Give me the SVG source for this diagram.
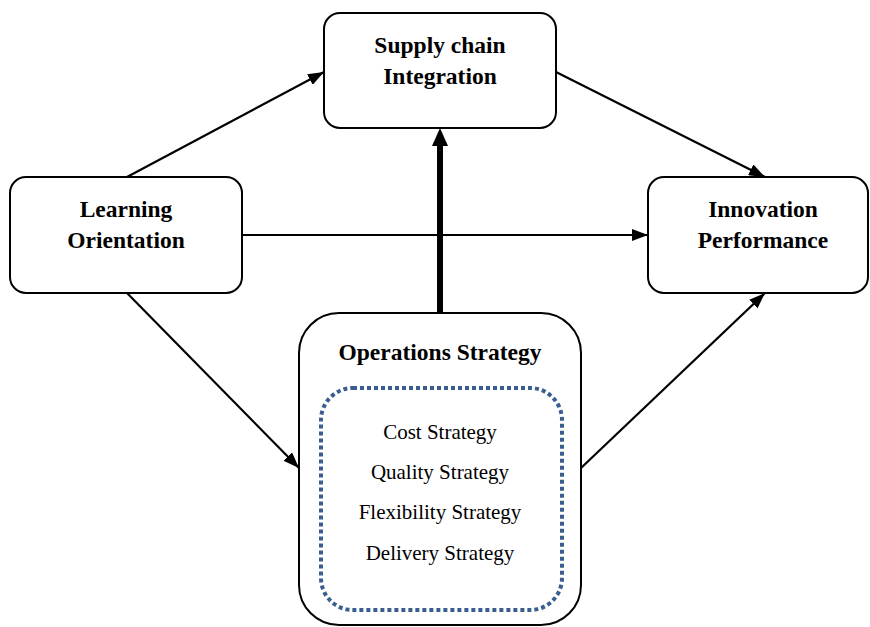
<svg xmlns="http://www.w3.org/2000/svg" width="870" height="627" viewBox="0 0 870 627">
<style>
.box{fill:#fff;stroke:#000;stroke-width:2}
.t{font-family:"Liberation Serif",serif;font-weight:bold;font-size:23.5px;text-anchor:middle;fill:#000}
.s{font-family:"Liberation Serif",serif;font-size:21px;text-anchor:middle;fill:#000}
.c{stroke:#000;stroke-width:2.2;fill:none;marker-end:url(#ah)}
</style>
<defs>
<marker id="ah" viewBox="0 0 16 12" refX="16" refY="6" markerWidth="16" markerHeight="12" markerUnits="userSpaceOnUse" orient="auto">
<path d="M0,0 L16,6 L0,12 z" fill="#000"/>
</marker>
</defs>
<g id="connectors">
<line class="c" x1="127" y1="177" x2="324" y2="72"/>
<line class="c" x1="556" y1="72" x2="765" y2="177"/>
<line class="c" x1="242" y1="235" x2="648" y2="235"/>
<line class="c" x1="127" y1="293" x2="299" y2="468"/>
<line class="c" x1="581" y1="468" x2="765" y2="293"/>
<line x1="440" y1="313" x2="440" y2="144" stroke="#000" stroke-width="6"/>
<path d="M432,146 L440,128 L448,146 z" fill="#000"/>
</g>
<g id="supply">
<rect class="box" x="324" y="13" width="232" height="115" rx="16"/>
<text class="t" x="440" y="53">Supply chain</text>
<text class="t" x="440" y="84">Integration</text>
</g>
<g id="learning">
<rect class="box" x="10" y="177" width="232" height="116" rx="16"/>
<text class="t" x="126" y="217">Learning</text>
<text class="t" x="126" y="248">Orientation</text>
</g>
<g id="innovation">
<rect class="box" x="648" y="177" width="220" height="116" rx="16"/>
<text class="t" x="763" y="217">Innovation</text>
<text class="t" x="763" y="248">Performance</text>
</g>
<g id="operations">
<rect class="box" x="299" y="313" width="282" height="312" rx="40"/>
<text class="t" x="440" y="360">Operations Strategy</text>
<rect x="321" y="388" width="241" height="222" rx="32" fill="none" stroke="#3a5f8f" stroke-width="4" stroke-dasharray="4,3"/>
<text class="s" x="440" y="439">Cost Strategy</text>
<text class="s" x="440" y="479">Quality Strategy</text>
<text class="s" x="440" y="519">Flexibility Strategy</text>
<text class="s" x="440" y="560">Delivery Strategy</text>
</g>
</svg>
